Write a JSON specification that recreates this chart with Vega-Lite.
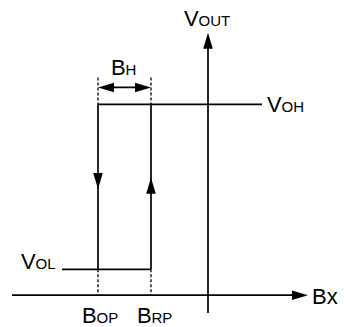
{
  "$schema": "https://vega.github.io/schema/vega-lite/v6.json",
  "width": 344,
  "height": 327,
  "autosize": {"type": "fit", "contains": "padding"},
  "padding": 0,
  "background": "white",
  "config": {"view": {"stroke": null}},
  "datasets": {
    "solid": [
      {"name": "Bx axis", "x1": 12, "x2": 300, "y1": 297, "y2": 297},
      {"name": "Vout axis", "x1": 208, "x2": 208, "y1": 45, "y2": 315},
      {"name": "VOH level", "x1": 98, "x2": 262, "y1": 105, "y2": 105},
      {"name": "BOP edge", "x1": 98, "x2": 98, "y1": 105, "y2": 271},
      {"name": "BRP edge", "x1": 151, "x2": 151, "y1": 105, "y2": 271},
      {"name": "VOL level", "x1": 62, "x2": 151, "y1": 271, "y2": 271},
      {"name": "BH span", "x1": 104, "x2": 145, "y1": 88, "y2": 88}
    ],
    "dashed": [
      {"name": "BOP top", "x1": 98, "x2": 98, "y1": 78, "y2": 105},
      {"name": "BRP top", "x1": 151, "x2": 151, "y1": 78, "y2": 105},
      {"name": "BOP foot", "x1": 98, "x2": 98, "y1": 271, "y2": 297},
      {"name": "BRP foot", "x1": 151, "x2": 151, "y1": 271, "y2": 297}
    ],
    "arrows": [
      {"x": 208, "y": 41, "dir": "up"},
      {"x": 300, "y": 297, "dir": "right"},
      {"x": 106, "y": 88, "dir": "left"},
      {"x": 143, "y": 88, "dir": "right"},
      {"x": 98, "y": 182, "dir": "down"},
      {"x": 151, "y": 187, "dir": "up"}
    ],
    "labels": [
      {"x": 184, "y": 26, "main": "V", "sub": "OUT"},
      {"x": 111, "y": 75, "main": "B", "sub": "H"},
      {"x": 267, "y": 113, "main": "V", "sub": "OH"},
      {"x": 21, "y": 271, "main": "V", "sub": "OL"},
      {"x": 82, "y": 325, "main": "B", "sub": "OP"},
      {"x": 137, "y": 325, "main": "B", "sub": "RP"},
      {"x": 312, "y": 306, "main": "Bx", "sub": ""}
    ]
  },
  "layer": [
    {
      "data": {"name": "solid"},
      "mark": {"type": "rule", "color": "black", "strokeWidth": 1.7},
      "encoding": {
        "x": {"field": "x1", "type": "quantitative", "scale": {"domain": [0, 344], "nice": false, "zero": false}, "axis": null},
        "x2": {"field": "x2"},
        "y": {"field": "y1", "type": "quantitative", "scale": {"domain": [0, 327], "nice": false, "zero": false, "reverse": true}, "axis": null},
        "y2": {"field": "y2"}
      }
    },
    {
      "data": {"name": "dashed"},
      "mark": {"type": "rule", "color": "black", "strokeWidth": 1.3, "strokeDash": [3, 2]},
      "encoding": {
        "x": {"field": "x1", "type": "quantitative", "axis": null},
        "x2": {"field": "x2"},
        "y": {"field": "y1", "type": "quantitative", "axis": null},
        "y2": {"field": "y2"}
      }
    },
    {
      "data": {"name": "arrows"},
      "transform": [{"filter": "datum.dir === 'up'"}],
      "mark": {"type": "point", "filled": true, "color": "black", "opacity": 1, "size": 256, "shape": "M0,-1L0.6,1L-0.6,1Z"},
      "encoding": {
        "x": {"field": "x", "type": "quantitative", "axis": null},
        "y": {"field": "y", "type": "quantitative", "axis": null}
      }
    },
    {
      "data": {"name": "arrows"},
      "transform": [{"filter": "datum.dir === 'down'"}],
      "mark": {"type": "point", "filled": true, "color": "black", "opacity": 1, "size": 256, "shape": "M0,1L0.6,-1L-0.6,-1Z"},
      "encoding": {
        "x": {"field": "x", "type": "quantitative", "axis": null},
        "y": {"field": "y", "type": "quantitative", "axis": null}
      }
    },
    {
      "data": {"name": "arrows"},
      "transform": [{"filter": "datum.dir === 'right'"}],
      "mark": {"type": "point", "filled": true, "color": "black", "opacity": 1, "size": 256, "shape": "M1,0L-1,0.6L-1,-0.6Z"},
      "encoding": {
        "x": {"field": "x", "type": "quantitative", "axis": null},
        "y": {"field": "y", "type": "quantitative", "axis": null}
      }
    },
    {
      "data": {"name": "arrows"},
      "transform": [{"filter": "datum.dir === 'left'"}],
      "mark": {"type": "point", "filled": true, "color": "black", "opacity": 1, "size": 256, "shape": "M-1,0L1,0.6L1,-0.6Z"},
      "encoding": {
        "x": {"field": "x", "type": "quantitative", "axis": null},
        "y": {"field": "y", "type": "quantitative", "axis": null}
      }
    },
    {
      "data": {"name": "labels"},
      "mark": {"type": "text", "align": "left", "baseline": "alphabetic", "font": "Liberation Sans", "fontSize": 22, "color": "black"},
      "encoding": {
        "x": {"field": "x", "type": "quantitative", "axis": null},
        "y": {"field": "y", "type": "quantitative", "axis": null},
        "text": {"field": "main"}
      }
    },
    {
      "data": {"name": "labels"},
      "mark": {"type": "text", "align": "left", "baseline": "alphabetic", "font": "Liberation Sans", "fontSize": 15, "dx": 14.5, "color": "black"},
      "encoding": {
        "x": {"field": "x", "type": "quantitative", "axis": null},
        "y": {"field": "y", "type": "quantitative", "axis": null},
        "text": {"field": "sub"}
      }
    }
  ]
}
